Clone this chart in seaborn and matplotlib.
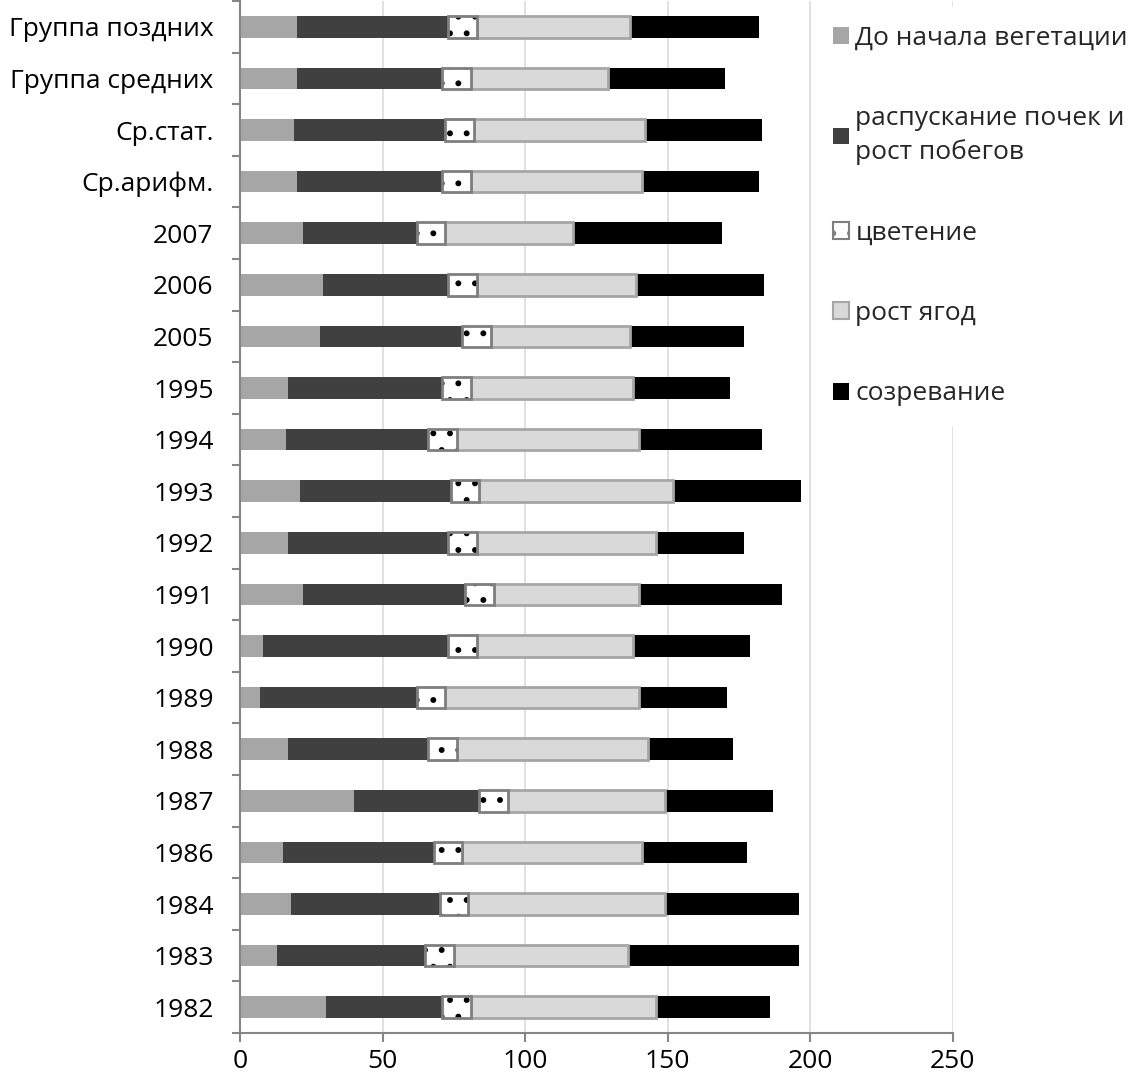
import numpy as np
import matplotlib
matplotlib.use("Agg")
import matplotlib.pyplot as plt
import seaborn as sns
from matplotlib.patches import Patch

# ---------------- data ----------------
categories = ["Группа поздних", "Группа средних", "Ср.стат.", "Ср.арифм.",
              "2007", "2006", "2005", "1995", "1994", "1993", "1992", "1991",
              "1990", "1989", "1988", "1987", "1986", "1984", "1983", "1982"]

phase_names = ["До начала вегетации", "распускание почек и\nрост побегов",
               "цветение", "рост ягод", "созревание"]

pre_veg   = [20, 20, 19, 20, 22, 29, 28, 17, 16, 21, 17, 22, 8, 7, 17, 40, 15, 18, 13, 30]
bud_shoot = [53, 51, 53, 51, 40, 44, 50, 54, 50, 53, 56, 57, 65, 55, 49, 44, 53, 52, 52, 41]
flowering = [10, 10, 10, 10, 10, 10, 10, 10, 10, 10, 10, 10, 10, 10, 10, 10, 10, 10, 10, 10]
berry     = [54, 48, 60, 60, 45, 56, 49, 57, 64, 68, 63, 51, 55, 68, 67, 55, 63, 69, 61, 65]
ripening  = [45, 41, 41, 41, 52, 45, 40, 34, 43, 45, 31, 50, 41, 31, 30, 38, 37, 47, 60, 40]

x_ticks = [0, 50, 100, 150, 200, 250]

# ---------------- style ----------------
sns.set_style("ticks")
plt.rcParams["font.family"] = ["Open Sans", "Liberation Sans", "DejaVu Sans"]
plt.rcParams["hatch.linewidth"] = 1.8

C_PRE, C_BUD, C_BERRY, C_RIPE = "#a6a6a6", "#404040", "#d9d9d9", "#000000"
C_FLOWER_EDGE, C_BERRY_EDGE, C_AXIS = "#7f7f7f", "#a6a6a6", "#868686"
FS = 19
BAR_W = 0.42

fig = plt.figure(figsize=(11.38, 10.78), dpi=100)
ax = fig.add_axes([240 / 1138, 45 / 1078, 712.5 / 1138, 1032 / 1078])

# cumulative starts
s_pre = np.zeros(len(categories))
s_bud = s_pre + np.array(pre_veg)
s_flw = s_bud + np.array(bud_shoot)
s_ber = s_flw + np.array(flowering)
s_rip = s_ber + np.array(berry)


def seg(values, left, **kw):
    sns.barplot(x=values, y=categories, order=categories, orient="y",
                left=left, width=BAR_W, errorbar=None, ax=ax, **kw)


seg(pre_veg, s_pre, color=C_PRE, linewidth=0)
seg(bud_shoot, s_bud, color=C_BUD, linewidth=0)
seg(ripening, s_rip, color=C_RIPE, linewidth=0)
seg(berry, s_ber, color=C_BERRY, edgecolor=C_BERRY_EDGE, linewidth=2)
seg(flowering, s_flw, color="white", edgecolor="black", linewidth=0, hatch=".")
seg(flowering, s_flw, fill=False, color=C_FLOWER_EDGE, linewidth=2)

# ---------------- axes ----------------
ax.set_xlim(0, 250)
ax.set_ylim(len(categories) - 0.5, -0.5)
ax.set_xticks(x_ticks)
ax.set_xticklabels([str(t) for t in x_ticks])
ax.set_yticks(np.arange(-0.5, len(categories), 1), minor=True)
ax.set_xlabel("")
ax.set_ylabel("")

ax.tick_params(axis="x", which="major", bottom=True, length=6.5, width=1.5,
               color=C_AXIS, direction="out", labelsize=FS, pad=5, labelcolor="black")
ax.tick_params(axis="y", which="major", left=True, length=0, pad=19,
               labelsize=FS, labelcolor="black")
ax.tick_params(axis="y", which="minor", left=True, length=6, width=1.5,
               color=C_AXIS, direction="out")

for side in ["top", "right"]:
    ax.spines[side].set_visible(False)
for side in ["left", "bottom"]:
    ax.spines[side].set_color(C_AXIS)
    ax.spines[side].set_linewidth(1.5)

ax.xaxis.grid(True, color="#d9d9d9", linewidth=1.1)
ax.yaxis.grid(False)
ax.set_axisbelow(True)

# ---------------- legend ----------------
handles = [
    Patch(facecolor=C_PRE, edgecolor="none"),
    Patch(facecolor=C_BUD, edgecolor="none"),
    Patch(facecolor="white", edgecolor=C_FLOWER_EDGE, linewidth=1.5, hatch="."),
    Patch(facecolor=C_BERRY, edgecolor=C_BERRY_EDGE, linewidth=1.5),
    Patch(facecolor=C_RIPE, edgecolor="none"),
]
leg = ax.legend(handles, phase_names, loc="upper left",
                bbox_to_anchor=(814 / 1138, 1 - 7 / 1078),
                bbox_transform=fig.transFigure, borderaxespad=0, borderpad=0.72,
                fontsize=FS, frameon=True, fancybox=False, framealpha=1,
                edgecolor="white", facecolor="white", handlelength=0.6,
                handleheight=0.6, handletextpad=0.25, labelspacing=2.1)
leg.get_texts()[1].set_linespacing(1.4)

fig.savefig("out.png", dpi=100)
